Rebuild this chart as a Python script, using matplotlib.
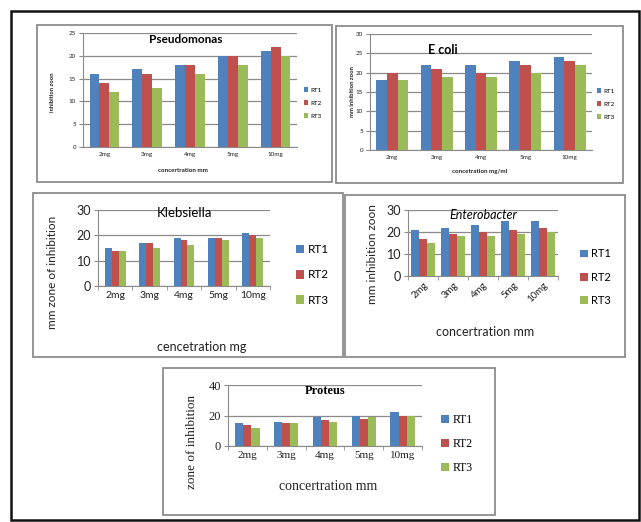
import matplotlib
matplotlib.use("Agg")
import matplotlib.pyplot as plt
import numpy as np
from matplotlib.patches import Rectangle

W, H = 641, 522

categories = ["2mg", "3mg", "4mg", "5mg", "10mg"]
series_names = ["RT1", "RT2", "RT3"]
colors = ["#4F81BD", "#C0504D", "#9BBB59"]

pseudo_rt1 = [16, 17, 18, 20, 21]
pseudo_rt2 = [14, 16, 18, 20, 22]
pseudo_rt3 = [12, 13, 16, 18, 20]

ecoli_rt1 = [18, 22, 22, 23, 24]
ecoli_rt2 = [20, 21, 20, 22, 23]
ecoli_rt3 = [18, 19, 19, 20, 22]

kleb_rt1 = [15, 17, 19, 19, 21]
kleb_rt2 = [14, 17, 18, 19, 20]
kleb_rt3 = [14, 15, 16, 18, 19]

entero_rt1 = [21, 22, 23, 25, 25]
entero_rt2 = [17, 19, 20, 21, 22]
entero_rt3 = [15, 18, 18, 19, 20]

proteus_rt1 = [15, 16, 19, 20, 22]
proteus_rt2 = [14, 15, 17, 18, 20]
proteus_rt3 = [12, 15, 16, 19, 20]

fig = plt.figure(figsize=(W / 100, H / 100), dpi=100)


def box(l, t, r, b):
    # pixel box -> figure fraction rect
    return [l / W, 1 - b / H, (r - l) / W, (b - t) / H]


def frame(l, t, r, b, color="#8c8c8c", lw=1.3):
    fig.patches.append(Rectangle((l / W, 1 - b / H), (r - l) / W, (b - t) / H,
                                 transform=fig.transFigure, fill=False,
                                 edgecolor=color, linewidth=lw))


def fx(x):
    return x / W


def fy(y):
    return 1 - y / H


def panel(rect, data, ymax, ystep, width, title, title_kw, title_xy,
          ylabel, xlabel, font, tick_fs, ytick_fs, label_fs, leg_xy, leg_fs,
          leg_space, label_pos, ylabel_pos, rot=0, cat_ticks=False):
    ax = fig.add_axes(box(*rect))
    x = np.arange(len(categories))
    for i, vals in enumerate(data):
        ax.bar(x + (i - 1) * width, vals, width, color=colors[i], zorder=3,
               label=series_names[i])
    ax.set_xlim(-0.5, len(categories) - 0.5)
    ax.set_ylim(0, ymax)
    ax.set_yticks(np.arange(0, ymax + 1, ystep))
    ax.yaxis.grid(True, color="#8a8a8a", linewidth=0.9, zorder=0)
    for s in ["top", "right"]:
        ax.spines[s].set_visible(False)
    for s in ["left", "bottom"]:
        ax.spines[s].set_color("#8a8a8a")
    ax.tick_params(axis="y", length=3, color="#8a8a8a", labelsize=ytick_fs,
                   pad=2, labelcolor="#222222")
    ax.set_xticks(x)
    if cat_ticks:
        ax.set_xticks(np.arange(-0.5, len(categories)), minor=True)
        ax.tick_params(axis="x", which="minor", length=3, color="#8a8a8a")
    ax.tick_params(axis="x", which="major", length=0)
    ax.set_xticklabels(categories, fontsize=tick_fs, family=font,
                       color="#222222", rotation=rot,
                       ha="right" if rot else "center",
                       rotation_mode="anchor" if rot else "default")
    for lab in ax.get_yticklabels():
        lab.set_family(font)
    ax.text(title_xy[0], title_xy[1], title, transform=ax.transAxes,
            ha="center", va="center", family=font, **title_kw)
    fig.text(fx(label_pos[0]), fy(label_pos[1]), xlabel, ha="center",
             va="center", family=font, fontsize=label_fs[0],
             fontweight=label_fs[1], color="#222222")
    fig.text(fx(ylabel_pos[0]), fy(ylabel_pos[1]), ylabel, ha="center",
             va="center", rotation=90, family=font, fontsize=label_fs[2],
             fontweight=label_fs[1], color="#222222")
    fig.legend(*ax.get_legend_handles_labels(), loc="center left",
               bbox_to_anchor=(fx(leg_xy[0]), fy(leg_xy[1])),
               frameon=False, handlelength=0.7,
               handleheight=0.7, handletextpad=0.3, labelspacing=leg_space,
               borderaxespad=0, borderpad=0,
               prop={"family": font, "size": leg_fs})
    return ax


# outer frame
frame(11, 11, 639, 520, color="#111111", lw=1.8)

# panel frames
frame(37, 25, 332, 182)
frame(336, 26, 623, 183)
frame(33, 193, 343, 357)
frame(345, 195, 625, 357)
frame(163, 368, 495, 515)

# Pseudomonas
panel((83, 33, 297, 147), [pseudo_rt1, pseudo_rt2, pseudo_rt3], 25, 5, 0.23,
      "Pseudomonas", dict(fontsize=8.5, fontweight="bold"), (0.48, 0.94),
      "inhibition zoon", "concertration mm", "Lato", 4.5, 4.5,
      (4.5, "bold", 4.2), (304, 103), 4.5, 1.2, (183, 171), (53, 92))

# E coli
panel((370, 34, 592, 150), [ecoli_rt1, ecoli_rt2, ecoli_rt3], 30, 5, 0.24,
      "E coli", dict(fontsize=9, fontweight="bold"), (0.33, 0.86),
      "mm inhibition zoon", "concetration mg/ml", "Lato", 4.5, 4.5,
      (4.5, "bold", 4.2), (597, 104), 4.5, 1.2, (480, 171), (353, 92))

# Klebsiella
panel((98, 210, 270, 286), [kleb_rt1, kleb_rt2, kleb_rt3], 30, 10, 0.2,
      "Klebsiella", dict(fontsize=9.5), (0.5, 0.96),
      "mm zone of inhibition", "cencetration mg", "Lato", 7.5, 9,
      (9, "normal", 8.5), (296, 275), 8.5, 1.2, (202, 347), (53, 272),
      cat_ticks=True)

# Enterobacter
panel((408, 210, 558, 276), [entero_rt1, entero_rt2, entero_rt3], 30, 10, 0.27,
      "Enterobacter", dict(fontsize=9, style="italic"), (0.5, 0.92),
      "mm inhibition zoon", "concertration mm", "Lato", 7, 9,
      (9, "normal", 8.5), (580, 277), 8, 1.1, (485, 332), (373, 254),
      rot=45, cat_ticks=True)

# Proteus
panel((228, 385, 422, 446), [proteus_rt1, proteus_rt2, proteus_rt3], 40, 20, 0.21,
      "Proteus", dict(fontsize=9, fontweight="bold"), (0.5, 0.9),
      "zone of inhibition", "concertration mm", "Liberation Serif", 8, 9,
      (10, "normal", 9.5), (441, 444), 8.5, 1.0, (328, 487), (192, 442),
      cat_ticks=True)

fig.savefig("out.png", dpi=100)
